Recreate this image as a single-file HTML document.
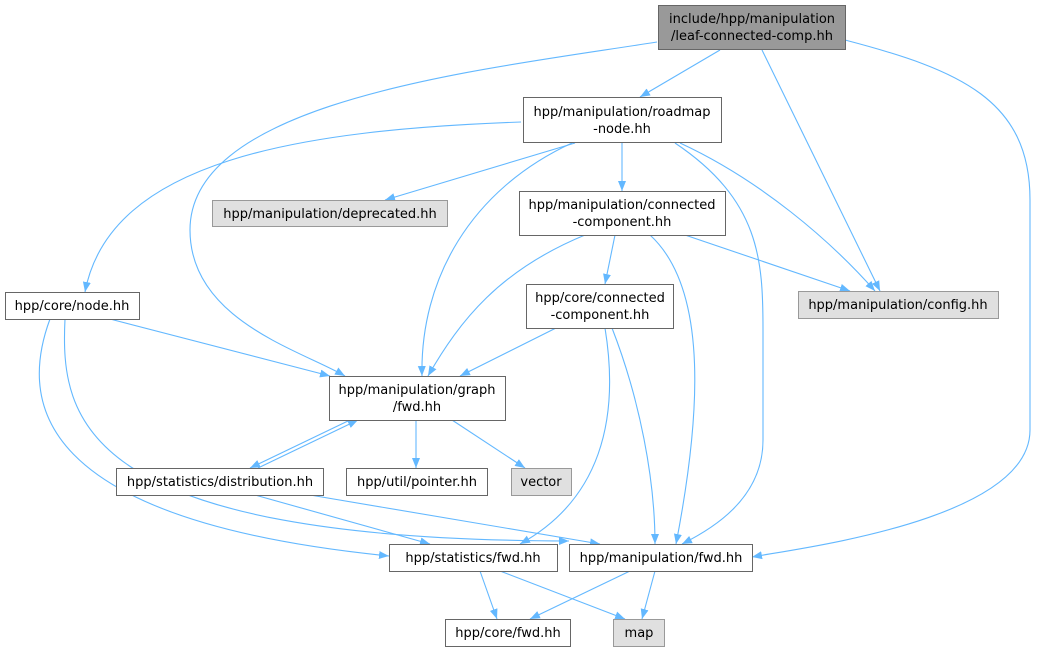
<!DOCTYPE html>
<html><head><meta charset="utf-8"><style>
body{margin:0;background:#fff}
svg text{font-family:"DejaVu Sans","Liberation Sans",sans-serif;font-size:13px;fill:#000;text-anchor:middle}
</style></head><body>
<svg width="1040" height="653" viewBox="0 0 1040 653" xmlns="http://www.w3.org/2000/svg">
<defs><marker id="a" viewBox="0 0 10 10" refX="10" refY="5" markerWidth="10" markerHeight="10" markerUnits="userSpaceOnUse" orient="auto"><path d="M0,1 L10,5 L0,9 z" fill="#63b8ff"/></marker></defs>
<g fill="none" stroke="#63b8ff" stroke-width="1.1" marker-end="url(#a)">
<path d="M720,50 L640,97"/>
<path d="M657,42 C480,70 190,100 190,230 C190,320 300,350 345,376"/>
<path d="M762,50 L880,291"/>
<path d="M845,40 C960,70 1030,100 1030,200 L1030,430 C1030,520 800,548 752,557"/>
<path d="M521,122 C300,130 110,160 85,292"/>
<path d="M575,143 L385,200"/>
<path d="M622,143 L622,191"/>
<path d="M572,143 C470,190 420,280 422,376"/>
<path d="M680,143 C760,180 830,240 875,291"/>
<path d="M675,143 C760,200 763,260 763,330 L763,440 C763,500 710,530 682,544"/>
<path d="M615,235 L605,284"/>
<path d="M585,235 C500,270 460,320 428,376"/>
<path d="M685,235 L850,291"/>
<path d="M650,235 C710,290 700,420 676,544"/>
<path d="M556,328 L460,376"/>
<path d="M605,328 C620,420 600,500 520,544"/>
<path d="M612,328 C640,400 655,480 655,544"/>
<path d="M110,319 L330,376"/>
<path d="M50,319 C20,400 30,520 389,556"/>
<path d="M65,319 C60,420 80,540 569,541"/>
<path d="M350,420 L250,468"/>
<path d="M258,468 L358,420"/>
<path d="M416,420 L416,468"/>
<path d="M452,420 L525,468"/>
<path d="M255,495 L430,544"/>
<path d="M310,495 L600,544"/>
<path d="M480,571 L497,619"/>
<path d="M500,571 L625,619"/>
<path d="M630,571 L530,619"/>
<path d="M655,571 L642,619"/>
</g>
<g stroke="#666" stroke-width="1">
<rect x="658.5" y="5.5" width="187" height="44" fill="#999"/>
<rect x="523.5" y="97.5" width="198" height="45" fill="#fff"/>
<rect x="212.5" y="200.5" width="235" height="26" fill="#e0e0e0" stroke="#999"/>
<rect x="519.5" y="191.5" width="206" height="44" fill="#fff"/>
<rect x="798.5" y="291.5" width="200" height="27" fill="#e0e0e0" stroke="#999"/>
<rect x="5.5" y="292.5" width="134" height="27" fill="#fff"/>
<rect x="526.5" y="284.5" width="147" height="44" fill="#fff"/>
<rect x="329.5" y="376.5" width="176" height="44" fill="#fff"/>
<rect x="116.5" y="468.5" width="207" height="27" fill="#fff"/>
<rect x="346.5" y="468.5" width="141" height="27" fill="#fff"/>
<rect x="511.5" y="468.5" width="60" height="27" fill="#e0e0e0" stroke="#999"/>
<rect x="389.5" y="544.5" width="168" height="27" fill="#fff"/>
<rect x="569.5" y="544.5" width="183" height="27" fill="#fff"/>
<rect x="445.5" y="619.5" width="125" height="27" fill="#fff"/>
<rect x="613.5" y="619.5" width="51" height="27" fill="#e0e0e0" stroke="#999"/>
</g>
<text x="752" y="23">include/hpp/manipulation</text>
<text x="752" y="40">/leaf-connected-comp.hh</text>
<text x="622" y="116">hpp/manipulation/roadmap</text>
<text x="622" y="133">-node.hh</text>
<text x="330" y="218">hpp/manipulation/deprecated.hh</text>
<text x="622" y="209">hpp/manipulation/connected</text>
<text x="622" y="226">-component.hh</text>
<text x="898" y="309">hpp/manipulation/config.hh</text>
<text x="72" y="310">hpp/core/node.hh</text>
<text x="600" y="302">hpp/core/connected</text>
<text x="600" y="319">-component.hh</text>
<text x="417" y="394">hpp/manipulation/graph</text>
<text x="417" y="411">/fwd.hh</text>
<text x="220" y="486">hpp/statistics/distribution.hh</text>
<text x="417" y="486">hpp/util/pointer.hh</text>
<text x="541" y="486">vector</text>
<text x="473" y="562">hpp/statistics/fwd.hh</text>
<text x="661" y="562">hpp/manipulation/fwd.hh</text>
<text x="508" y="637">hpp/core/fwd.hh</text>
<text x="639" y="637">map</text>
</svg>
</body></html>
